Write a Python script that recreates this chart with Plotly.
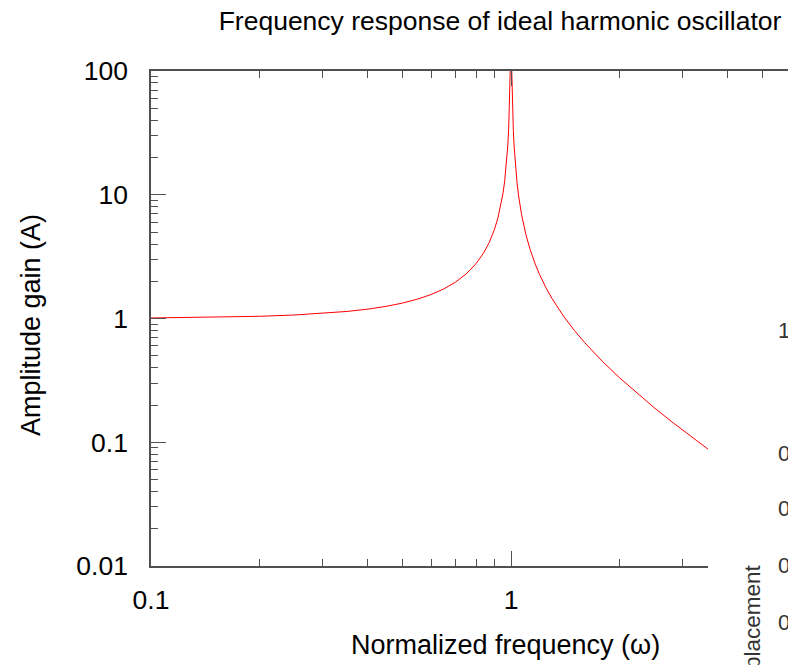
import plotly.graph_objects as go

# Values (normalized frequency vs amplitude gain)
omega = [0.1, 0.15, 0.2, 0.25, 0.3, 0.35, 0.4, 0.45, 0.5, 0.55, 0.6, 0.65, 0.7,
         0.75, 0.8, 0.84, 0.87, 0.9, 0.92, 0.94, 0.95, 0.96, 0.97, 0.98, 0.985,
         0.99, 0.995, 0.998, 1.002, 1.005, 1.01, 1.015, 1.02, 1.03, 1.04, 1.05,
         1.07, 1.1, 1.13, 1.17, 1.2, 1.25, 1.3, 1.4, 1.5, 1.6, 1.8, 2.0, 2.2,
         2.5, 2.8, 3.1, 3.5, 3.6]
gain = [1.010, 1.023, 1.042, 1.067, 1.099, 1.140, 1.190, 1.254, 1.333, 1.434,
        1.563, 1.732, 1.961, 2.286, 2.778, 3.397, 4.114, 5.263, 6.510, 8.591,
        10.26, 12.76, 16.92, 25.25, 33.58, 50.25, 100.3, 250.0, 250.0, 99.75,
        49.75, 33.08, 24.75, 16.42, 12.25, 9.756, 6.901, 4.762, 3.611, 2.711,
        2.273, 1.778, 1.449, 1.042, 0.800, 0.641, 0.446, 0.333, 0.260, 0.190,
        0.146, 0.116, 0.089, 0.084]

x_major = [0.1, 1]
x_major_labels = ["0.1", "1"]
x_minor = [0.2, 0.3, 0.4, 0.5, 0.6, 0.7, 0.8, 0.9, 2, 3, 4, 5]
y_major = [0.01, 0.1, 1, 10, 100]
y_major_labels = ["0.01", "0.1", "1", "10", "100"]
y_minor = [m * d for d in [0.01, 0.1, 1, 10] for m in range(2, 10)]

title_text = "Frequency response of ideal harmonic oscillator"
x_title = "Normalized frequency (ω)"
y_title = "Amplitude gain (A)"
overlay_labels = ["1", "0", "0", "0", "0"]
overlay_label_px = [330, 453, 508, 565, 622]

FONT = "Liberation Sans, Arial, sans-serif"
W, H = 788, 665
L, T, B = 151, 71, 99
PH = H - T - B


def py(p):
    return (H - B - p) / PH


def px(p):
    return (p - L) / (W - L)


fig = go.Figure()
fig.add_trace(go.Scatter(x=omega, y=gain, mode="lines",
                         line=dict(color="#ff0000", width=1),
                         showlegend=False, hoverinfo="skip"))

axis_common = dict(
    showgrid=False, zeroline=False, showline=True, linecolor="#505050",
    linewidth=1.5, ticks="inside", ticklen=15, tickwidth=1.2,
    tickcolor="#505050",
    tickfont=dict(family=FONT, size=26.5, color="#000000"),
)

fig.update_xaxes(type="log", range=[-1, -1 + (W - L) / 360.0],
                 tickvals=x_major, ticktext=x_major_labels, mirror="ticks",
                 minor=dict(ticks="inside", ticklen=7, tickvals=x_minor,
                            tickcolor="#505050", tickwidth=1.2),
                 ticklabelstandoff=9, **axis_common)
fig.update_yaxes(type="log", range=[-2, 2],
                 tickvals=y_major, ticktext=y_major_labels, mirror=False,
                 minor=dict(ticks="inside", ticklen=7, tickvals=y_minor,
                            tickcolor="#505050", tickwidth=1.2),
                 ticklabelstandoff=16, **axis_common)

annotations = [
    dict(text=x_title, xref="paper", yref="paper", x=px(505), y=py(645),
         xanchor="center", yanchor="middle", showarrow=False,
         font=dict(family=FONT, size=27, color="#000000")),
    dict(text=y_title, xref="paper", yref="paper", x=px(31), y=py(325),
         xanchor="center", yanchor="middle", textangle=-90, showarrow=False,
         font=dict(family=FONT, size=27, color="#000000")),
    dict(text="Displacement", xref="paper", yref="paper", x=px(752), y=py(563),
         xanchor="center", yanchor="top", textangle=-90, showarrow=False,
         font=dict(family=FONT, size=22.5, color="#333333")),
]
for lab, p in zip(overlay_labels, overlay_label_px):
    annotations.append(dict(text=lab, xref="paper", yref="paper", x=px(776),
                            y=py(p), xanchor="left", yanchor="middle",
                            showarrow=False,
                            font=dict(family=FONT, size=22, color="#333333")))

fig.update_layout(
    width=W, height=H,
    margin=dict(l=L, r=0, t=T, b=B, pad=0),
    paper_bgcolor="white", plot_bgcolor="white",
    title=dict(text=title_text, x=500 / W, xanchor="center", xref="container",
               y=1 - 21 / H, yanchor="middle", yref="container",
               font=dict(family=FONT, size=26.5, color="#000000")),
    annotations=annotations,
    shapes=[dict(type="rect", xref="paper", yref="paper", x0=px(708), x1=1.1,
                 y0=-0.3, y1=py(300), fillcolor="white",
                 line=dict(width=0), layer="above")],
)

fig.write_html("out.html")
